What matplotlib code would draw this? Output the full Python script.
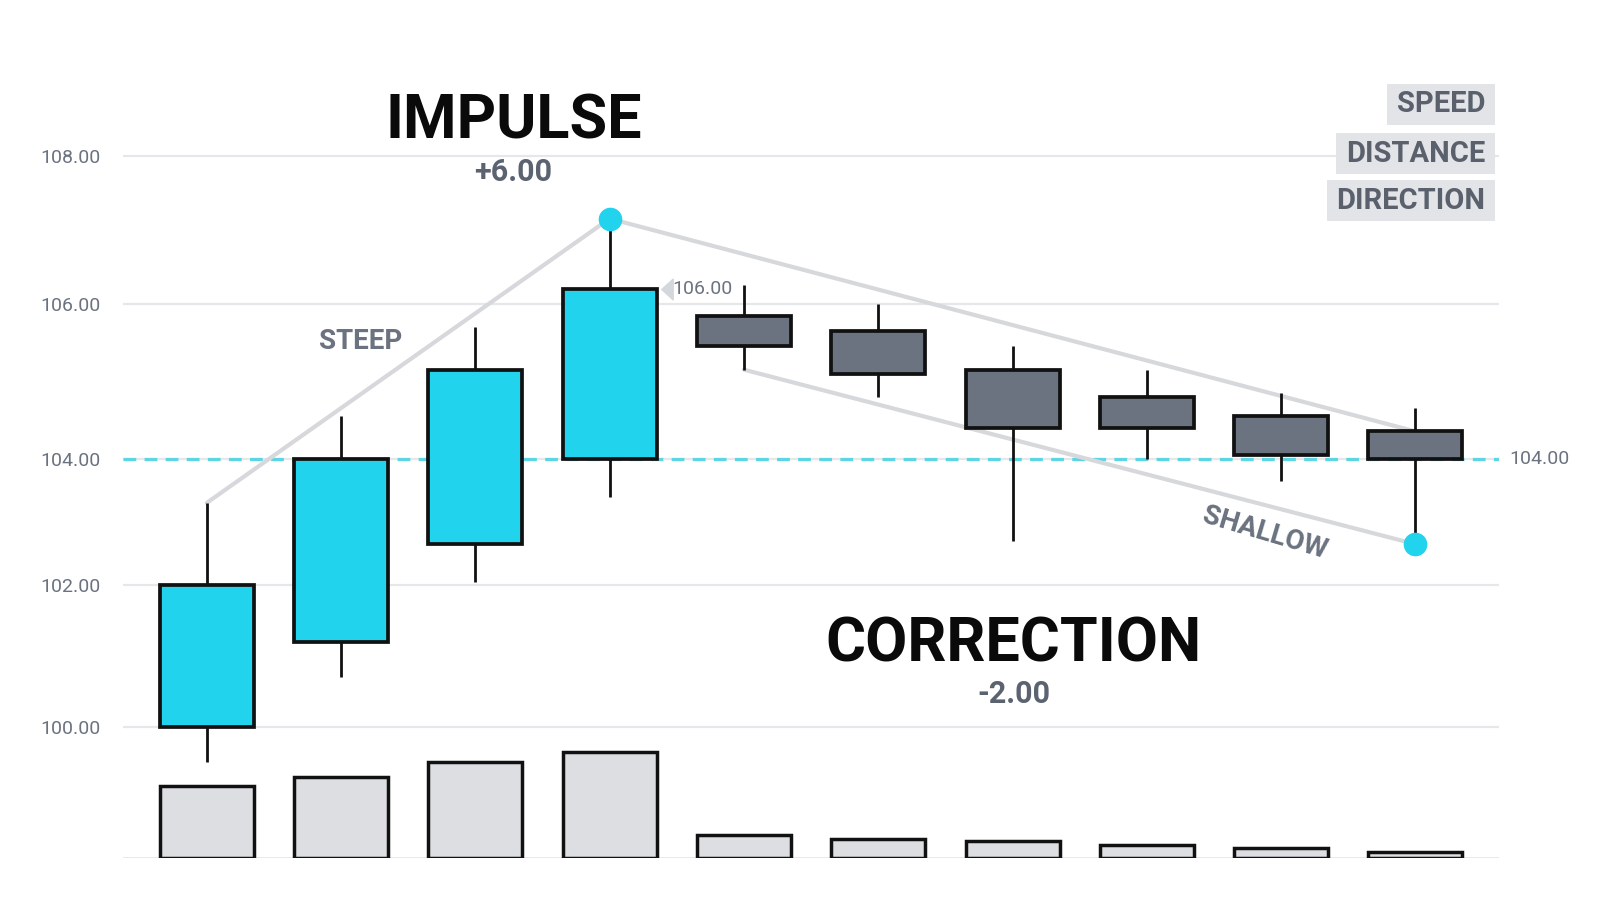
import matplotlib
matplotlib.use('Agg')
import matplotlib.pyplot as plt
from matplotlib.patches import Rectangle
from matplotlib.path import Path
import matplotlib.transforms as mtransforms
import numpy as np

plt.rcParams['font.family'] = ['Roboto', 'DejaVu Sans']

# ---------------- data ----------------
opens = [100.0, 101.2, 102.65, 104.0, 105.85, 105.65, 105.15, 104.8, 104.55, 104.35]
closes = [102.0, 104.0, 105.15, 106.2, 105.45, 105.1, 104.4, 104.4, 104.05, 104.0]
highs = [103.3, 104.55, 105.7, 107.15, 106.25, 106.0, 105.45, 105.15, 104.85, 104.65]
lows = [99.5, 100.7, 102.05, 103.4, 105.15, 104.8, 102.7, 104.0, 103.65, 102.65]
volumes = [70, 79, 94, 103, 22, 18, 16, 12, 9, 6]
price_ticks = [100, 102, 104, 106, 108]
tick_labels = ['100.00', '102.00', '104.00', '106.00', '108.00']
level = 104.0
level_label = '104.00'
tag_label = '106.00'
impulse_title = 'IMPULSE'
impulse_change = '+6.00'
correction_title = 'CORRECTION'
correction_change = '-2.00'
steep_label = 'STEEP'
shallow_label = 'SHALLOW'
factors = ['SPEED', 'DISTANCE', 'DIRECTION']

# ---------------- style ----------------
CYAN = '#22D3EE'
BEAR = '#6B7280'
EDGE = '#111111'
GRID = '#E5E7EB'
TREND = '#D6D8DC'
TXT_GRAY = '#6B7280'
VOL = '#DCDEE2'

# uneven price-axis spacing of the original drawing (piecewise-linear scale)
scale_knots = [98, 100, 102, 104, 106, 108, 110]
scale_pos = [-848, -710, -572, -448, -297, -152, -7]


def fwd(v):
    return np.interp(v, scale_knots, scale_pos)


def inv(p):
    return np.interp(p, scale_pos, scale_knots)


W, H, DPI = 16, 9.14, 100
fig = plt.figure(figsize=(W, H), dpi=DPI)
fig.patch.set_facecolor('white')

x = np.arange(len(opens))
xlim = (-0.625, 9.62)

# volume axes
vax = fig.add_axes([0.0767, 0.0616, 0.86, 0.150], zorder=0)
vax.set_xlim(*xlim)
vax.set_ylim(0, 134)
vax.axis('off')
vax.axhline(0, color=GRID, lw=2, zorder=0)
vax.bar(x, volumes, width=0.70, color=VOL, edgecolor=EDGE, linewidth=2.5, zorder=2)

# price axes
ax = fig.add_axes([0.0767, 0.1277, 0.86, 0.7833], zorder=1)
ax.patch.set_alpha(0)
ax.set_yscale('function', functions=(fwd, inv))
ax.set_xlim(*xlim)
ax.set_ylim(99, 109)
for s in ax.spines.values():
    s.set_visible(False)
ax.set_xticks([])
ax.set_yticks(price_ticks)
ax.set_yticklabels(tick_labels)
ax.yaxis.set_minor_locator(matplotlib.ticker.NullLocator())
ax.tick_params(axis='y', length=0, pad=16, labelsize=14, labelcolor=TXT_GRAY)
ax.grid(axis='y', which='major', color=GRID, lw=1.6)
ax.set_axisbelow(True)

# support level
ax.axhline(level, color='#5DD6E4', lw=2.3, ls=(0, (4, 2.6)), zorder=1.5)
ax.text(1.0075, level, level_label, transform=mtransforms.blended_transform_factory(ax.transAxes, ax.transData),
        ha='left', va='center', fontsize=14, color=TXT_GRAY)

# trend lines
ax.plot([x[0], x[3]], [highs[0], highs[3]], color=TREND, lw=3, zorder=2, solid_capstyle='round')
ax.plot([x[3], x[9]], [highs[3], opens[9]], color=TREND, lw=3, zorder=2, solid_capstyle='round')
ax.plot([x[4], x[9]], [lows[4], lows[9]], color=TREND, lw=3, zorder=2, solid_capstyle='round')

# candles
o = np.array(opens); c = np.array(closes)
bottoms = np.minimum(o, c)
heights = np.abs(c - o)
colors = [CYAN if cc >= oo else BEAR for oo, cc in zip(opens, closes)]
ax.vlines(x, lows, highs, color=EDGE, lw=2.0, zorder=3)
ax.bar(x, heights, bottom=bottoms, width=0.70, color=colors, edgecolor=EDGE, linewidth=2.7, zorder=4)

# extreme dots
ax.plot([x[3]], [highs[3]], 'o', ms=16, color=CYAN, zorder=6)
ax.plot([x[9]], [lows[9]], 'o', ms=16, color=CYAN, zorder=6)

# price tag
tri = Path([(-0.55, 0), (0.55, 1), (0.55, -1), (-0.55, 0)], closed=True)
ax.plot([x[3] + 0.43], [closes[3]], marker=tri, ms=15, color='#D4D7DC', zorder=5, ls='none')
ax.text(x[3] + 0.465, closes[3], tag_label, ha='left', va='center', fontsize=14, color=TXT_GRAY, zorder=5)

# titles
ax.text(2.285, 108.46, impulse_title, ha='center', va='center', fontsize=44, fontweight='bold', color='#0A0A0A')
ax.text(2.285, 107.78, impulse_change, ha='center', va='center', fontsize=22, fontweight='bold', color='#5B6270')
ax.text(6.01, 101.16, correction_title, ha='center', va='center', fontsize=44, fontweight='bold', color='#0A0A0A')
ax.text(6.01, 100.46, correction_change, ha='center', va='center', fontsize=22, fontweight='bold', color='#5B6270')
ax.text(1.15, 105.51, steep_label, ha='center', va='center', fontsize=20, fontweight='bold', color=TXT_GRAY)
ax.text(7.88, 102.82, shallow_label, ha='center', va='center', fontsize=20, fontweight='bold', color=TXT_GRAY,
        rotation=-16.5, rotation_mode='anchor')

# factor boxes (top right)
ys = [0.8858, 0.832, 0.7805]
texts = []
for lab, yy in zip(factors, ys):
    t = fig.text(0.9285, yy, lab, ha='right', va='center', fontsize=21, fontweight='bold', color='#5A616D', zorder=6)
    texts.append(t)
fig.canvas.draw()
r = fig.canvas.get_renderer()
fw, fh = W * DPI, H * DPI
for t, yy in zip(texts, ys):
    bb = t.get_window_extent(r)
    x0 = bb.x0 - 10
    x1 = bb.x1 + 9
    yc = yy * fh
    rect = Rectangle((x0 / fw, (yc - 20.5) / fh), (x1 - x0) / fw, 41 / fh, transform=fig.transFigure,
                     facecolor='#E2E4E8', edgecolor='none', zorder=5)
    fig.add_artist(rect)

fig.savefig('out.png', dpi=DPI, facecolor='white')
